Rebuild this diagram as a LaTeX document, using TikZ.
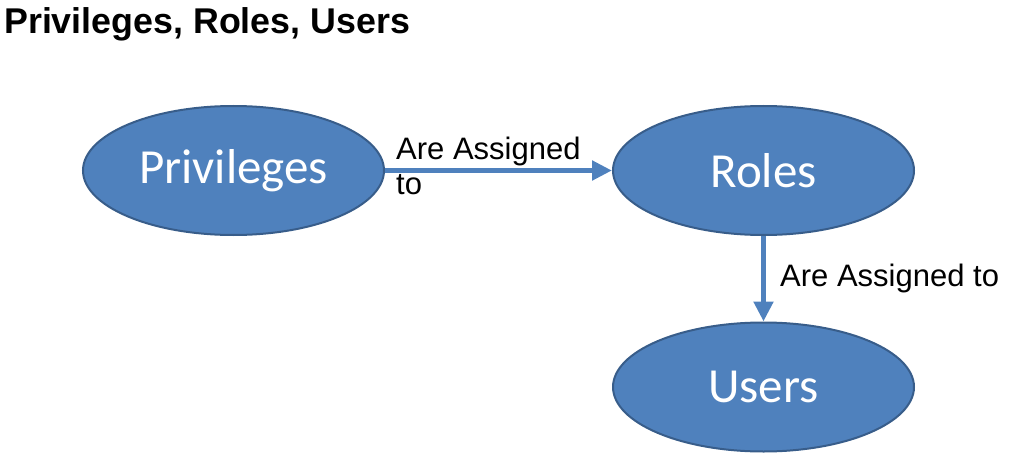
\documentclass[tikz,border=0pt]{standalone}
\usepackage{fontspec}
\setmainfont{Liberation Sans}
\newfontfamily\calib{Carlito}
\usetikzlibrary{arrows.meta,shapes.geometric}
\definecolor{blfill}{HTML}{4F81BD}
\definecolor{bldraw}{HTML}{385D8A}
\tikzset{
  ent/.style={ellipse, draw=bldraw, line width=2pt, fill=blfill, minimum width=301pt, minimum height=129pt, inner sep=0pt, text=white, font=\calib\fontsize{49}{53}\selectfont},
  conn/.style={draw=blfill, line width=5pt, -{Triangle[length=20pt,width=19pt]}, shorten >=0pt},
  lbl/.style={font=\fontsize{31}{34}\selectfont, anchor=base west, inner sep=0pt, align=left}
}
\begin{document}
\begin{tikzpicture}[x=1pt,y=-1pt]
\useasboundingbox (0,0) rectangle (1017,476);
\node[font=\bfseries\fontsize{35.8}{40}\selectfont, anchor=base west, inner sep=0pt] (title) at (4,34) {Privileges, Roles, Users};
\node[ent] (priv) at (233.5,170.5) {Privileges};
\node[ent] (roles) at (763.5,170.5) {Roles};
\node[ent] (users) at (763.5,387) {Users};
\draw[conn] (priv.east) -- (roles.west);
\draw[conn] (roles.south) -- (users.north);
\node[lbl] (l1) at (396,160) {Are Assigned};
\node[lbl] (l1b) at (396,194) {to};
\node[lbl] (l2) at (780,286) {Are Assigned to};
\end{tikzpicture}
\end{document}
